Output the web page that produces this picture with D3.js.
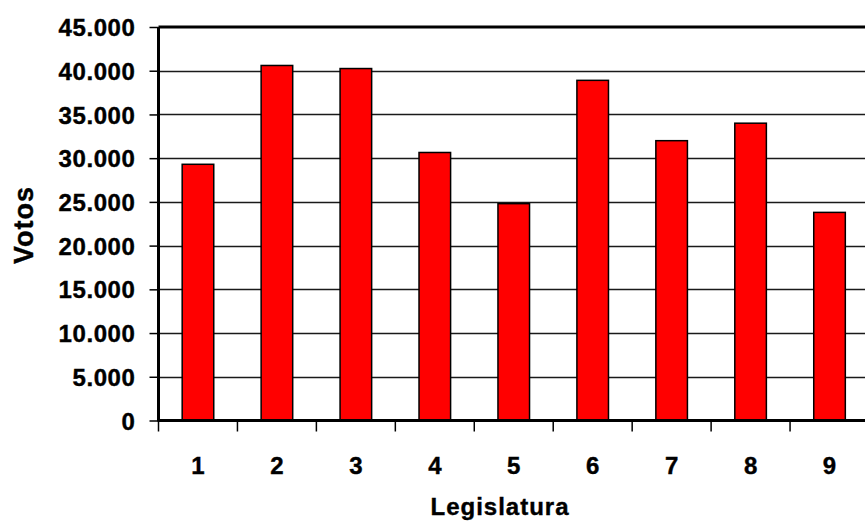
<!DOCTYPE html>
<html>
<head>
<meta charset="utf-8">
<script src="https://cdn.jsdelivr.net/npm/d3@7"></script>
<style>
  html, body { margin: 0; padding: 0; background: #fff; }
  svg { display: block; }
  text { font-family: "Liberation Sans", Arial, sans-serif; font-weight: bold; fill: #000; stroke: #000; stroke-width: 0.4px; }
</style>
</head>
<body>
<svg id="chart" width="865" height="525"></svg>
<script>
const categories = ["1", "2", "3", "4", "5", "6", "7", "8", "9"];
const votos = [29300, 40600, 40250, 30650, 24800, 38900, 32000, 34000, 23800];
const yTicks = [0, 5000, 10000, 15000, 20000, 25000, 30000, 35000, 40000, 45000];
const yTickLabels = ["0", "5.000", "10.000", "15.000", "20.000", "25.000", "30.000", "35.000", "40.000", "45.000"];

const svg = d3.select("#chart");
const mLeft = 158.5, mRight = 869, mTop = 27, mBottom = 420.5;

const x = d3.scaleBand().domain(categories).range([mLeft, mRight]).paddingInner(0.6).paddingOuter(0.3);
const y = d3.scaleLinear().domain([0, 45000]).range([mBottom, mTop]);

// gridlines
svg.append("g").selectAll("line").data(yTicks.filter(d => d > 0 && d < 45000)).join("line")
  .attr("x1", mLeft).attr("x2", mRight)
  .attr("y1", d => Math.round(y(d)) + 0.5).attr("y2", d => Math.round(y(d)) + 0.5)
  .attr("stroke", "#1a1a1a").attr("stroke-width", 1.5);

// top border
svg.append("line").attr("x1", mLeft).attr("x2", mRight).attr("y1", mTop).attr("y2", mTop)
  .attr("stroke", "#000").attr("stroke-width", 3);

// bars
svg.append("g").selectAll("rect").data(votos).join("rect")
  .attr("x", (d, i) => x(categories[i]))
  .attr("width", x.bandwidth())
  .attr("y", d => y(d))
  .attr("height", d => y(0) - y(d))
  .attr("fill", "#ff0000")
  .attr("stroke", "#000").attr("stroke-width", 1.5);

// y axis
const yAxis = d3.axisLeft(y).tickValues(yTicks).tickSize(9).tickPadding(14)
  .tickFormat((d, i) => yTickLabels[i]);
const gy = svg.append("g").attr("transform", `translate(${mLeft},0)`).call(yAxis);
gy.select(".domain").attr("stroke", "#000").attr("stroke-width", 3)
  .attr("d", `M0,${mTop}V${mBottom + 1}`);
gy.selectAll(".tick line").attr("stroke", "#000").attr("stroke-width", 1.5);
gy.selectAll(".tick text").attr("font-size", 24).attr("font-family", "Liberation Sans, Arial, sans-serif")
  .attr("font-weight", "bold").attr("letter-spacing", "0.6").attr("fill", "#000").attr("dy", "0.36em");

// x axis
const xAxis = d3.axisBottom(x).tickSize(0).tickPadding(0);
const gx = svg.append("g").attr("transform", `translate(0,${mBottom})`).call(xAxis);
gx.select(".domain").attr("stroke", "#000").attr("stroke-width", 3)
  .attr("d", `M${mLeft},0H${mRight}`);
gx.selectAll(".tick text").attr("font-size", 24).attr("font-family", "Liberation Sans, Arial, sans-serif")
  .attr("font-weight", "bold").attr("fill", "#000").attr("y", 53).attr("dy", 0);

// x boundary ticks
const bounds = d3.range(categories.length + 1).map(i => mLeft + i * x.step());
svg.append("g").selectAll("line").data(bounds).join("line")
  .attr("x1", d => d).attr("x2", d => d)
  .attr("y1", mBottom).attr("y2", mBottom + 11)
  .attr("stroke", "#000").attr("stroke-width", 1.5);

// axis titles
svg.append("text").attr("x", 500).attr("y", 515).attr("text-anchor", "middle")
  .attr("font-size", 24).attr("letter-spacing", "1").text("Legislatura");
svg.append("text").attr("transform", "translate(33,225) rotate(-90)").attr("text-anchor", "middle")
  .attr("font-size", 27).attr("letter-spacing", "1").text("Votos");
</script>
</body>
</html>
